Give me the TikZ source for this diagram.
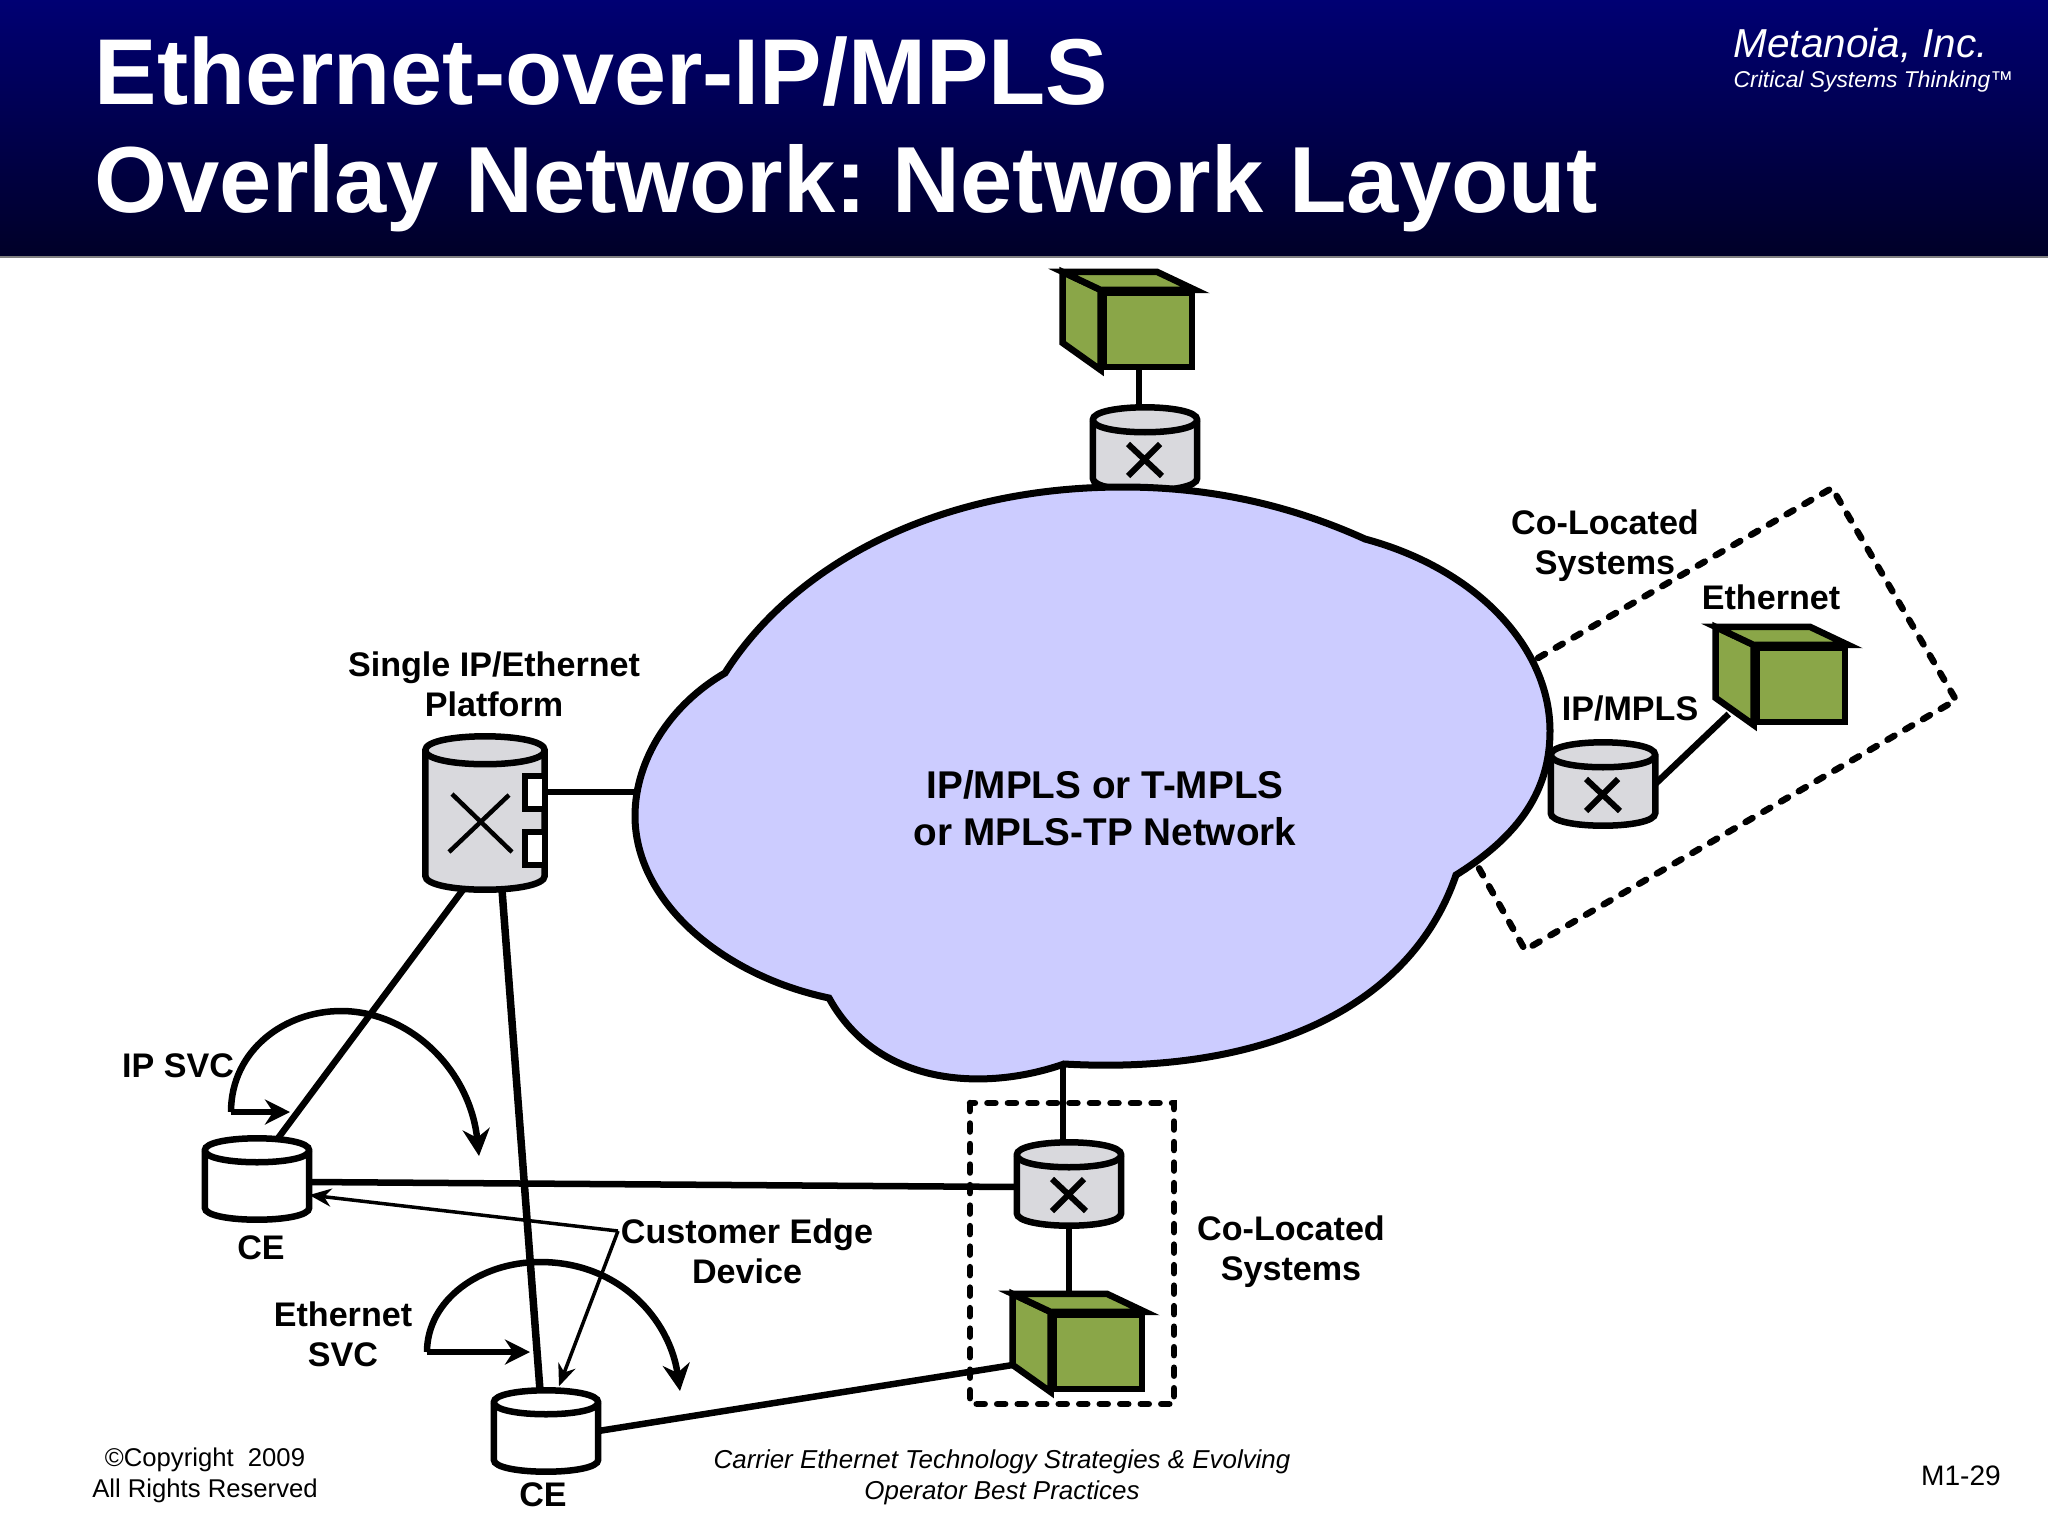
\documentclass[tikz,border=0pt]{standalone}
\usepackage{fontspec}
\setmainfont{Liberation Sans}
\usetikzlibrary{arrows.meta}
\definecolor{navy}{RGB}{0,0,115}
\definecolor{navydark}{RGB}{0,0,40}
\definecolor{cloudblue}{RGB}{204,204,255}
\definecolor{boxgreen}{RGB}{138,166,72}
\definecolor{cylgray}{RGB}{217,217,221}
\newcommand{\lbl}[2]{\fontsize{#1}{#2}\selectfont\bfseries}
\newcommand{\cubeat}[2]{
    \node[cube] (#1) at (#2) {};
    \draw[cubeline] ([shift={(-38,-18)}]#1.north west) -- ++(0,71) -- (#1.south west) -- (#1.north west) -- cycle;
    \draw[cubeline] ([shift={(-38,-18)}]#1.north west) -- ([shift={(-38,-18)}]#1.north east) -- (#1.north east) -- (#1.north west) -- cycle;
}
\newcommand{\cylat}[5]{
    \node[#2] (#1) at (#3) {};
    \draw[cylline,fill=#5] ([shift={(0,#4)}]#1.north west) -- ([shift={(0,-#4)}]#1.south west)
        .. controls +(0,1.33*#4) and +(0,1.33*#4) .. ([shift={(0,-#4)}]#1.south east)
        -- ([shift={(0,#4)}]#1.north east)
        .. controls +(0,-1.33*#4) and +(0,-1.33*#4) .. cycle;
    \draw[cylline] ([shift={(0,#4)}]#1.north west) .. controls +(0,1.33*#4) and +(0,1.33*#4) .. ([shift={(0,#4)}]#1.north east);
}
\newcommand{\crossat}[1]{
    \draw[line width=0.06cm] ([shift={(-17,-5)}]#1.center) -- ([shift={(17,27)}]#1.center)
        ([shift={(15,-5)}]#1.center) -- ([shift={(-17,27)}]#1.center);
}
\frenchspacing
\begin{document}
\begin{tikzpicture}
            [x=0.01cm,y=-0.01cm,
            line/.style={line width=0.065cm},
            thinline/.style={line width=0.035cm,-{Stealth[length=0.22cm,width=0.18cm]}},
            svc/.style={line width=0.065cm,-{Stealth[length=0.27cm,width=0.27cm]}},
            svcin/.style={line width=0.055cm,-{Stealth[length=0.25cm,width=0.25cm]}},
            cubeline/.style={line width=0.065cm,fill=boxgreen},
            cube/.style={rectangle,draw=black,fill=boxgreen,line width=0.065cm,minimum width=0.88cm,minimum height=0.735cm,inner sep=0pt},
            cylline/.style={line width=0.065cm},
            swtch/.style={rectangle,minimum width=1.03cm,minimum height=0.82cm,inner sep=0pt},
            ce/.style={rectangle,minimum width=1.03cm,minimum height=0.8cm,inner sep=0pt},
            platform/.style={rectangle,minimum width=1.18cm,minimum height=1.52cm,inner sep=0pt},
            port/.style={rectangle,draw=black,fill=white,line width=0.06cm,minimum width=0.2cm,minimum height=0.33cm,inner sep=0pt},
            dashbox/.style={line width=0.065cm,line cap=round,dash pattern=on 0.08cm off 0.125cm},
            txt/.style={align=center,inner sep=0pt,font=\lbl{9.7pt}{11.4pt}}]
            \useasboundingbox (0,0) rectangle (2048,1536);
            \shade[top color=navy,bottom color=navydark] (0,0) rectangle (2048,256);
            \draw[gray,line width=0.02cm] (0,257) -- (2048,257);
            \node[anchor=base west,inner sep=0pt,text=white,font=\lbl{26.6pt}{30pt}] (titlea) at (94,104) {Ethernet-over-IP/MPLS};
            \node[anchor=base west,inner sep=0pt,text=white,font=\lbl{26.7pt}{30pt}] (titleb) at (94,212) {Overlay Network: Network Layout};
            \node[anchor=base west,inner sep=0pt,text=white,font=\fontsize{11.5pt}{13pt}\selectfont\itshape] (company) at (1733,57) {Metanoia, Inc.};
            \node[anchor=base west,inner sep=0pt,text=white,font=\fontsize{6.5pt}{8pt}\selectfont\itshape] (slogan) at (1733,87) {Critical Systems Thinking™};
            \cylat{cylt}{swtch}{1145,449}{12.5}{cylgray}
            \crossat{cylt}
            \cylat{cylr}{swtch}{1603,784}{12.5}{cylgray}
            \crossat{cylr}
            \cylat{cylb}{swtch}{1069,1184}{12.5}{cylgray}
            \crossat{cylb}
            \cylat{cylp}{platform}{485,813}{14}{cylgray}
            \draw[line width=0.045cm] (452,794) -- (512,852) (509,795) -- (449,852);
            \node[port] (porta) at (535,792) {};
            \node[port] (portb) at (535,848) {};
            \draw[line width=0.07cm,fill=cloudblue] (725,673) .. controls (790,570) and (930,487) .. (1123,487)
                .. controls (1210,487) and (1290,505) .. (1365,539)
                .. controls (1480,570) and (1550,650) .. (1550,731)
                .. controls (1550,790) and (1520,835) .. (1456,875)
                .. controls (1410,1010) and (1260,1075) .. (1064,1064)
                .. controls (990,1090) and (880,1090) .. (829,998)
                .. controls (720,975) and (635,900) .. (635,816)
                .. controls (635,760) and (670,705) .. (725,673) -- cycle;
            \coordinate (cloudw) at (637,792);
            \coordinate (clouds) at (1063,1064);
            \node[txt,font=\lbl{11pt}{13.3pt}] (net) at (1105,808) {IP/MPLS or T-MPLS\\or MPLS-TP Network};
            \cubeat{cubet}{1148,330}
            \cubeat{cuber}{1801,685}
            \cubeat{cubeb}{1098,1352}
            \cylat{cea}{ce}{257,1179}{12}{white}
            \cylat{ceb}{ce}{546,1431}{12}{white}
            \draw[line] ([shift={(-9,0)}]cubet.south) -- ([shift={(-6,0)}]cylt.north);
            \draw[line] (clouds) -- ([shift={(-6,0)}]cylb.north);
            \draw[line] (cylb.south) -- ([shift={(-29,-18)}]cubeb.north);
            \draw[line] (cylr.east) -- ([shift={(-25,29)}]cuber.west);
            \draw[line] (porta.east) -- (cloudw);
            \draw[line] ([shift={(-22,0)}]cylp.south) -- ([shift={(21,0)}]cea.north);
            \draw[line width=0.075cm] ([shift={(17,0)}]cylp.south) -- ([shift={(-6,0)}]ceb.north);
            \draw[line] ([shift={(0,3)}]cea.east) -- ([shift={(0,3)}]cylb.west);
            \draw[line] (ceb.east) -- ([shift={(-38,13)}]cubeb.west);
            \draw[dashbox] (970,1103) rectangle (1174,1404);
            \draw[dashbox] (1538,658) -- (1832,488) -- (1956,700) -- (1525,950) -- (1476,863);
            \coordinate (ipstart) at (231,1112);
            \coordinate (ipend) at (290,1112);
            \coordinate (iptop) at (341,1011);
            \coordinate (iptip) at (479,1156);
            \coordinate (ethstart) at (427,1352);
            \coordinate (ethend) at (530,1352);
            \coordinate (ethtop) at (540,1262);
            \coordinate (ethtip) at (680,1391);
            \coordinate (edge) at (618,1231);
            \draw[svcin] (ipstart) -- (ipend);
            \draw[svc] (ipstart) .. controls (231,1050) and (285,1011) .. (iptop) .. controls (410,1011) and (470,1070) .. (iptip);
            \draw[svcin] (ethstart) -- (ethend);
            \draw[svc] (ethstart) .. controls (427,1300) and (480,1262) .. (ethtop) .. controls (620,1262) and (670,1320) .. (ethtip);
            \draw[thinline] (edge) -- ([shift={(0,16)}]cea.east);
            \draw[thinline] (edge) -- ([shift={(13,-4)}]ceb.north);
            \node[txt] (single) at (494,684) {Single IP/Ethernet\\Platform};
            \node[txt] (colocb) at (1291,1252) {Co-Located\\Systems};
            \node[txt] (coloct) at (1605,546) {Co-Located\\Systems};
            \node[txt] (ethlabel) at (1771,597) {Ethernet};
            \node[txt] (mplslabel) at (1630,708) {IP/MPLS};
            \node[txt] (ipsvc) at (178,1066) {IP SVC};
            \node[txt] (ethsvc) at (343,1334) {Ethernet\\SVC};
            \node[txt] (ceatxt) at (261,1248) {CE};
            \node[txt] (cebtxt) at (543,1495) {CE};
            \node[txt] (edgetxt) at (747,1251) {Customer Edge\\Device};
            \node[align=center,inner sep=0pt,font=\fontsize{7.3pt}{8.9pt}\selectfont] (copyr) at (205,1475) {©Copyright\ \ 2009\\All Rights Reserved};
            \node[align=center,inner sep=0pt,font=\fontsize{7.37pt}{8.9pt}\selectfont\itshape] (book) at (1002,1477) {Carrier Ethernet Technology Strategies \& Evolving\\Operator Best Practices};
            \node[inner sep=0pt,font=\fontsize{8pt}{9pt}\selectfont] (page) at (1961,1476) {M1-29};
        \end{tikzpicture}
\end{document}
